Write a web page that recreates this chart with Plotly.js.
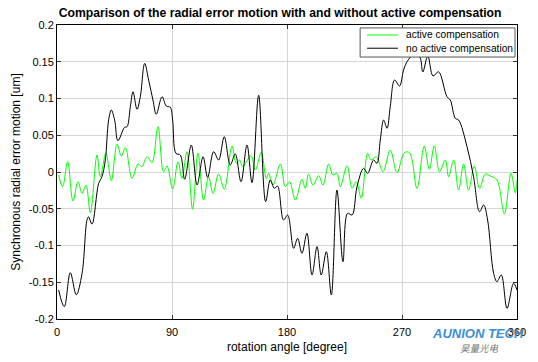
<!DOCTYPE html>
<html>
<head>
<meta charset="utf-8">
<script src="https://cdn.plot.ly/plotly-3.0.1.min.js"></script>
<style>html,body{margin:0;padding:0;background:#fff;}#chart{width:538px;height:362px;}</style>
</head>
<body>
<div id="chart"></div>
<script>
// rotation angle [degree] and radial error [um]
var angleNoComp = [1.25,5.7,10.4,15.1,19.6,23.5,24.7,27.4,32.6,35.2,37.8,40.4,42.5,45.1,47.7,52.9,54.8,57.4,59.5,62.6,65.2,68.6,71.7,75.1,77.7,82.2,85.5,88.7,90.5,93.1,96.5,99.9,105.1,109.6,114.3,117.9,122.6,126.5,130.9,135.6,139.5,144.0,148.7,152.6,157.8,163.3,166.9,170.1,172.6,177.3,180.5,185.2,188.3,191.7,195.6,199.6,203.5,206.8,210.8,214.7,219.1,223.8,227.4,230.9,234.8,239.9,243.1,247.8,250.4,253.0,255.6,258.3,260.8,264.2,268.1,271.2,273.9,276.5,279.6,284.3,286.3,290.2,294.3,298.6,305.2,307.8,311.7,314.3,320.9,326.0,330.7,333.9,337.0,341.7,344.3,347.7,352.2,357.3,360];
var noComp = [-0.1605,-0.1833,-0.137,-0.167,-0.138,-0.065,-0.061,-0.071,-0.0154,-0.0064,0.0163,0.0707,0.0843,0.0707,0.0426,0.0608,0.0616,0.0888,0.1092,0.0853,0.1024,0.1478,0.1251,0.0979,0.0785,0.1024,0.0898,0.088,0.0707,0.0254,0.0231,-0.0099,0.0367,-0.0177,0.0208,-0.0072,0.0276,0.0163,0.048,0.0095,0.0245,-0.0132,0.0367,-0.0146,0.1043,-0.0404,-0.0109,-0.0222,-0.019,-0.0653,-0.0585,-0.1038,-0.0902,-0.1106,-0.0834,-0.1401,-0.1016,-0.1401,-0.1084,-0.1673,-0.0245,-0.122,-0.0562,-0.0585,-0.02,0.005,-0.0018,0.0163,0.0118,0.0435,0.0707,0.0594,0.0888,0.1251,0.117,0.1387,0.15,0.1564,0.1659,0.155,0.136,0.1578,0.1306,0.1364,0.1024,0.0979,0.073,0.0707,0.0344,-0.0064,-0.054,-0.0449,-0.0653,-0.1378,-0.1492,-0.1401,-0.1854,-0.1514,-0.1605];

var angleComp = [1.25,4.4,8.3,12.5,16.4,19.6,22.7,26.1,31.3,33.9,38.3,42.5,47.0,50.3,53.5,58.7,63.4,66.5,70.4,74.3,79.0,83.4,86.1,90.5,94.7,97.8,101.7,106.1,110.3,114.7,118.6,122.1,126.5,130.9,137.0,140.3,142.9,145.3,151.8,155.2,159.9,163.8,165.6,169.0,174.8,178.7,182.0,186.5,191.7,194.3,196.9,200.3,204.7,208.2,212.6,216.0,219.1,221.7,227.0,230.9,234.2,238.1,243.1,245.7,249.9,255.1,260.8,266.1,271.8,275.9,281.7,287.4,291.4,295.3,299.4,303.9,306.5,310.4,314.3,318.2,322.1,326.6,330.7,335.2,339.1,344.3,350.1,355.3,358.7,360];
var comp = [-0.0041,-0.02,0.014,-0.0394,-0.0132,-0.029,-0.0177,-0.0554,0.0231,-0.0064,0.0254,-0.0118,0.0381,0.0218,0.033,-0.0086,0.0109,0.0072,0.0208,0.0126,0.0616,0.0004,0.0082,-0.0231,0.014,-0.0086,0.0276,-0.0507,0.0254,-0.0381,-0.0064,-0.029,-0.0027,-0.0235,0.0354,0.0118,0.0163,0.0072,0.0222,0.0027,0.0268,-0.0086,-0.0018,-0.0177,0.0109,-0.02,-0.0132,-0.0381,-0.0099,-0.0222,-0.0027,-0.0177,-0.005,-0.0177,0.0109,-0.0041,-0.0018,-0.02,0.0086,-0.0218,-0.0132,-0.0358,0.0254,0.0163,0.0208,0.0004,0.0299,-0.001,0.0262,0.0262,-0.0222,0.0354,0.0037,0.0358,0.0004,0.0163,-0.0064,0.0163,-0.0245,0.0109,-0.0245,0.0082,-0.0222,-0.0027,-0.0054,-0.0109,-0.0571,-0.0018,-0.0282,-0.0109];

var seriesNames = ["active compensation", "no active compensation"];
var seriesColors = ["#00ff00", "#000000"];

var xTicks = [0, 90, 180, 270, 360];
var xTickText = ["0", "90", "180", "270", "360"];
var yTicks = [-0.2, -0.15, -0.1, -0.05, 0, 0.05, 0.1, 0.15, 0.2];
var yTickText = ["-0.2", "-0.15", "-0.1", "-0.05", "0", "0.05", "0.1", "0.15", "0.2"];

var FONT = "Arial, 'Liberation Sans', Helvetica, sans-serif";

var traces = [
  {x: angleComp, y: comp, mode: "lines", name: seriesNames[0],
   line: {color: seriesColors[0], width: 1, shape: "spline", smoothing: 1}},
  {x: angleNoComp, y: noComp, mode: "lines", name: seriesNames[1],
   line: {color: seriesColors[1], width: 1, shape: "spline", smoothing: 1}}
];

// compact MATLAB-style legend box (paper coordinates)
var legX0 = 0.659, legX1 = 0.9957, legY0 = 0.891, legY1 = 0.990;
var legRowY = [0.966, 0.921];
var shapes = [
  {type: "rect", xref: "paper", yref: "paper", x0: legX0, x1: legX1, y0: legY0, y1: legY1,
   fillcolor: "#ffffff", line: {color: "#555", width: 1}, layer: "above"}
];
var annotations = [];
for (var i = 0; i < seriesNames.length; i++) {
  shapes.push({type: "line", xref: "paper", yref: "paper", x0: 0.674, x1: 0.741,
               y0: legRowY[i], y1: legRowY[i], line: {color: seriesColors[i], width: 1}, layer: "above"});
  annotations.push({text: seriesNames[i], xref: "paper", yref: "paper", x: 0.754, y: legRowY[i],
                    xanchor: "left", yanchor: "middle", showarrow: false,
                    font: {family: FONT, size: 10.2, color: "#000"}});
}
annotations.push(
  {text: "<b><i>AUNION TECH</i></b>", xref: "paper", yref: "paper", x: 0.915, y: -0.048,
   xanchor: "center", yanchor: "middle", showarrow: false,
   font: {family: FONT, size: 13, color: "#3a8fd6"}},
  {text: "<i>昊量光电</i>", xref: "paper", yref: "paper", x: 0.918, y: -0.1,
   xanchor: "center", yanchor: "middle", showarrow: false,
   font: {family: "'Noto Sans CJK SC', sans-serif", size: 9.5, color: "#777"}}
);

var layout = {
  width: 538, height: 362,
  margin: {l: 57, r: 21, t: 25, b: 43, pad: 0},
  paper_bgcolor: "#ffffff", plot_bgcolor: "#ffffff",
  font: {family: FONT, size: 11, color: "#000"},
  showlegend: false,
  title: {text: "Comparison of the radial error motion with and without active compensation",
          font: {family: FONT, size: 12.2, weight: "bold", color: "#000"},
          xref: "paper", x: 0.485, xanchor: "center", yref: "container", y: 0.965, yanchor: "middle"},
  xaxis: {range: [0, 360], tickmode: "array", tickvals: xTicks, ticktext: xTickText,
          showgrid: true, gridcolor: "#d6d6d6", gridwidth: 1, zeroline: false,
          showline: true, linecolor: "#000", linewidth: 1, mirror: "ticks",
          ticks: "inside", ticklen: 4, tickcolor: "#333", ticklabelstandoff: 3,
          tickfont: {family: FONT, size: 11, color: "#000"},
          title: {text: "rotation angle [degree]", font: {family: FONT, size: 12, color: "#000"}, standoff: 5}},
  yaxis: {range: [-0.2, 0.2], tickmode: "array", tickvals: yTicks, ticktext: yTickText,
          showgrid: true, gridcolor: "#d6d6d6", gridwidth: 1, zeroline: false,
          showline: true, linecolor: "#000", linewidth: 1, mirror: "ticks",
          ticks: "inside", ticklen: 4, tickcolor: "#333",
          tickfont: {family: FONT, size: 11, color: "#000"},
          title: {text: "Synchronous radial error motion [um]", font: {family: FONT, size: 12, color: "#000"}, standoff: 5}},
  shapes: shapes,
  annotations: annotations
};

Plotly.newPlot("chart", traces, layout, {displayModeBar: false, staticPlot: true});
</script>
</body>
</html>
